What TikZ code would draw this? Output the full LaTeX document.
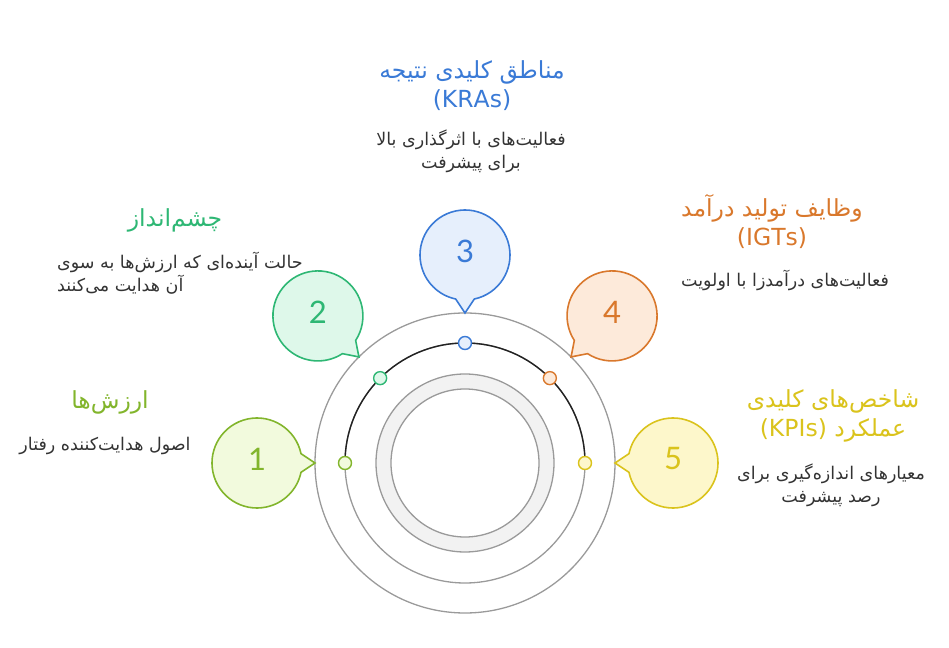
\documentclass[tikz,border=0pt]{standalone}
\usepackage{fontspec}
\usepackage{xcolor}
\usepackage{tikz}
\usetikzlibrary{calc}
\TeXXeTstate=1
\newfontfamily\fa[Script=Arabic]{DejaVu Sans}
\newfontfamily\numfont{Lato}
\definecolor{ringgray}{HTML}{9A9A9A}
\definecolor{ringfill}{HTML}{F2F2F2}
\definecolor{arcblack}{HTML}{222222}
\definecolor{textgray}{HTML}{333333}
\definecolor{val}{HTML}{82B52C}
\definecolor{valfill}{HTML}{F2FADD}
\definecolor{vis}{HTML}{2EB774}
\definecolor{visfill}{HTML}{DEF8EA}
\definecolor{kra}{HTML}{3A7AD6}
\definecolor{krafill}{HTML}{E6EFFC}
\definecolor{igt}{HTML}{D9782C}
\definecolor{igtfill}{HTML}{FDEADA}
\definecolor{kpi}{HTML}{DAC31C}
\definecolor{kpifill}{HTML}{FDF7CB}

\begin{document}
\begin{tikzpicture}[x=1pt, y=1pt,
    ring/.style={ringgray, line width=1.3pt},
    bubble/.style={line width=1.6pt},
    dot/.style={line width=1.4pt},
    title/.style={font=\fa\fontsize{23.5}{29}\selectfont, align=center, inner sep=0pt},
    desc/.style={font=\fa\fontsize{17.5}{23}\selectfont, text=textgray, align=center, inner sep=0pt},
    num/.style={font=\numfont\fontsize{31}{31}\selectfont, inner sep=0pt}]
    \useasboundingbox (-465,-184) rectangle (484,463);
    \coordinate (O) at (0,0);
    % rings
    \fill[ringfill, even odd rule] (O) circle (89pt) (O) circle (74pt);
    \draw[ring] (O) circle (150pt);
    \draw[ring] (O) circle (120pt);
    \draw[ring] (O) circle (89pt);
    \draw[ring] (O) circle (74pt);
    \draw[arcblack, line width=1.4pt] (180:120) arc[start angle=180, end angle=0, radius=120pt];
    % bubbles and dots
    \foreach \a/\col/\n in {180/val/1, 135/vis/2, 90/kra/3, 45/igt/4, 0/kpi/5} {
        \coordinate (B\n) at (\a:208);
        \begin{scope}[shift={(B\n)}]
            \filldraw[bubble, draw=\col, fill=\col fill] (\a+192:45pt) arc[start angle=\a+192, delta angle=336, radius=45pt] -- (\a+180:58pt) -- cycle;
        \end{scope}
        \node[num, text=\col] (N\n) at ($(B\n)+(0,4)$) {\n};
        \filldraw[dot, draw=\col, fill=\col fill] (\a:120) circle (6.5pt);
    }
    % texts
    \node[title, text=val] (valT) at (-355,61) {\beginR ارزش^^^^200cها\endR};
    \node[desc] (valD) at (-360,17) {\beginR اصول هدایت^^^^200cکننده رفتار\endR};
    \node[title, text=vis] (visT) at (-290,243) {\beginR چشم^^^^200cانداز\endR};
    \node[desc, align=left, anchor=west] (visD) at (-408,189.5) {\beginR حالت آینده^^^^200cای که ارزش^^^^200cها به سوی\endR\\\beginR آن هدایت می^^^^200cکنند\endR};
    \node[title, text=kra] (kraT) at (7,377.5) {\beginR مناطق کلیدی نتیجه\endR\\(KRAs)};
    \node[desc] (kraD) at (6,311.5) {\beginR فعالیت^^^^200cهای با اثرگذاری بالا\endR\\\beginR برای پیشرفت\endR};
    \node[title, text=igt] (igtT) at (307,241.5) {\beginR وظایف تولید درآمد\endR\\(IGTs)};
    \node[desc] (igtD) at (320,183) {\beginR فعالیت^^^^200cهای درآمدزا با اولویت\endR};
    \node[title, text=kpi] (kpiT) at (368,47) {\beginR شاخص^^^^200cهای کلیدی\endR\\\beginR عملکرد \beginL(KPIs)\endL\endR};
    \node[desc] (kpiD) at (366,-22.5) {\beginR معیارهای اندازه^^^^200cگیری برای\endR\\\beginR رصد پیشرفت\endR};
\end{tikzpicture}
\end{document}
